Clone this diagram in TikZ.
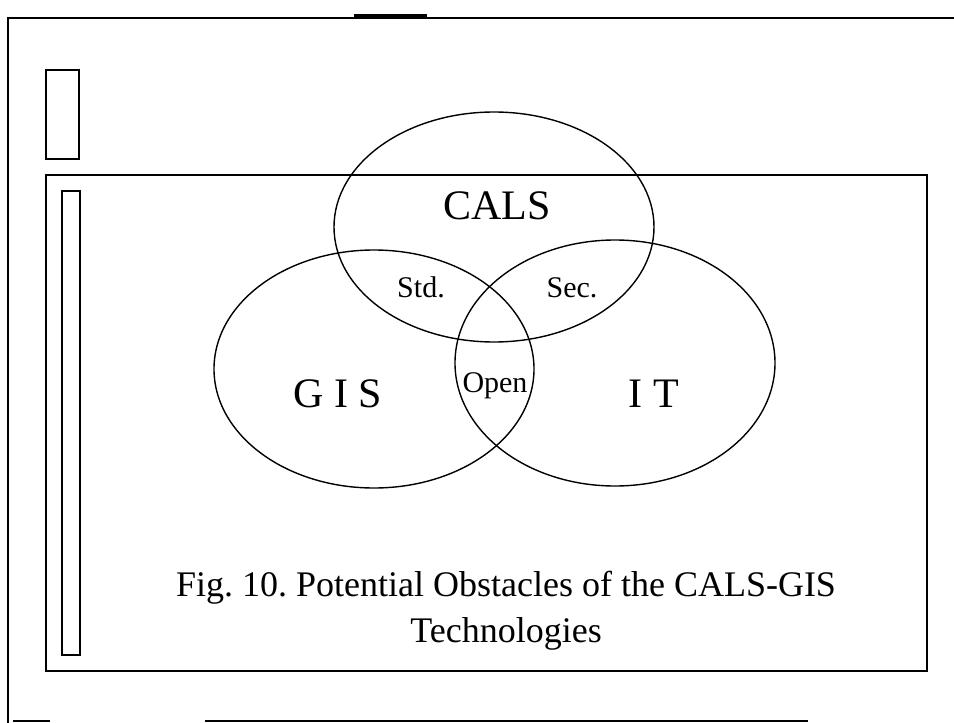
\documentclass[tikz,border=0pt]{standalone}
\usepackage{fontspec}
\setmainfont{Liberation Serif}
\usetikzlibrary{shapes.geometric}

\tikzset{
    frame/.style={draw,line width=1.6pt},
    venn/.style={draw,ellipse,line width=1.4pt,minimum width=320pt,inner sep=0pt},
    biglabel/.style={font=\fontsize{42}{48}\selectfont,anchor=base},
    smalllabel/.style={font=\fontsize{30}{36}\selectfont,anchor=base}
}

\begin{document}
\frenchspacing
\begin{tikzpicture}[x=1pt,y=-1pt]
    \useasboundingbox (0,0) rectangle (954,723);
    % Draw outer page lines
    \draw[line width=2.4pt] (7,18) -- (954,18);
    \draw[line width=3pt] (354,15.5) -- (427,15.5);
    \draw[line width=2.2pt] (8,18) -- (8,723);
    \draw[line width=1.4pt] (13,721) -- (50,721);
    \draw[line width=1.4pt] (205,721) -- (808,721);
    % Draw boxes
    \draw[frame] (46,70) rectangle (79,159);
    \draw[frame] (46,175) rectangle (927,671);
    \draw[frame] (62,191) rectangle (80,655);

    % Draw the three sets
    \node[venn,minimum height=230pt] (cals) at (494,227) {};
    \node[venn,minimum height=238pt] (gis) at (374,369) {};
    \node[venn,minimum height=246pt] (it) at (615,363) {};

    % Label sets and overlaps
    \node[biglabel] (calslbl) at (497,219) {CALS};
    \node[biglabel] (gislbl) at (338,407) {G I S};
    \node[biglabel] (itlbl) at (654,407) {I T};
    \node[smalllabel] (std) at (421,297) {Std.};
    \node[smalllabel] (sec) at (572,297) {Sec.};
    \node[smalllabel] (open) at (495,392) {Open};

    % Caption (base is the last line)
    \node[font=\fontsize{36}{46}\selectfont,align=center,anchor=base] (caption) at (506,642)
        {Fig. 10. Potential Obstacles of the CALS-GIS\\Technologies};
\end{tikzpicture}
\end{document}
